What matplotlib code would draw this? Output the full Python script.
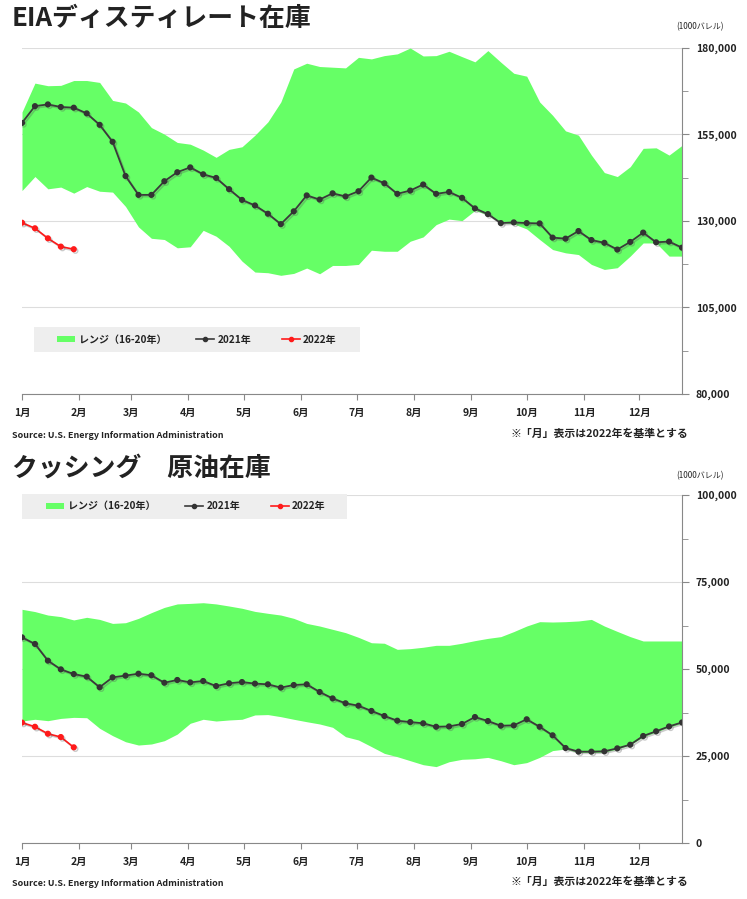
import numpy as np
import matplotlib
matplotlib.use("Agg")
import matplotlib.pyplot as plt
import matplotlib.patheffects as pe
from matplotlib.patches import Rectangle, Patch
from matplotlib.lines import Line2D
from matplotlib.ticker import FuncFormatter

plt.rcParams['font.family'] = ['Noto Sans CJK JP', 'DejaVu Sans']

# 月ラベル (2022年基準, 週単位の位置)
month_labels = ['1月', '2月', '3月', '4月', '5月', '6月', '7月', '8月', '9月', '10月', '11月', '12月']
month_days = [0, 31, 59, 90, 120, 151, 181, 212, 243, 273, 304, 334]

# EIAディスティレート在庫 (1000バレル)
dist_ticks = [80000, 105000, 130000, 155000, 180000]
dist_2021 = [158350, 163200, 163700, 162950, 162750, 161100, 157800, 152900, 143000, 137550,
             137550, 141500, 144100, 145500, 143500, 142450, 139200, 136100, 134500, 132100,
             129100, 132800, 137400, 136200, 138000, 137100, 138600, 142550, 140900, 137850,
             138800, 140550, 137850, 138400, 136700, 133650, 132000, 129400, 129600, 129400,
             129300, 125200, 124900, 127100, 124500, 123700, 121750, 123950, 126650, 123850,
             124050, 122300]
dist_2022 = [129500, 127900, 125000, 122600, 121850]
dist_hi = [161500, 169850, 169100, 169200, 170600, 170600, 170050, 164850, 164100, 161500,
           157000, 155100, 152700, 152200, 150500, 148400, 150700, 151450, 154800, 158650,
           164400, 173950, 175600, 174650, 174450, 174250, 177300, 176850, 177800, 178300,
           180000, 177700, 177800, 179050, 177500, 176000, 179250, 175900, 172700, 171850,
           164400, 160550, 156050, 154800, 149050, 144000, 142850, 145700, 151000, 151150,
           149050, 151850]
dist_lo = [138800, 142850, 139300, 139800, 138050, 139950, 138600, 138350, 134200, 128300,
           125000, 124650, 122250, 122550, 127300, 125600, 122700, 118400, 115250, 115050,
           114300, 114850, 116400, 114750, 117150, 117150, 117450, 121550, 121250, 121250,
           124150, 125400, 128950, 130550, 130100, 133050, 131800, 129600, 129150, 127700,
           124650, 121750, 120800, 120300, 117450, 116000, 116500, 119850, 123650, 123650,
           119850, 119850]

# クッシング原油在庫 (1000バレル)
cush_ticks = [0, 25000, 50000, 75000, 100000]
cush_2021 = [59100, 57200, 52400, 49900, 48550, 47800, 44750, 47600, 48100, 48650,
             48200, 46050, 46850, 46150, 46550, 45100, 45900, 46250, 45800, 45600,
             44650, 45400, 45600, 43400, 41550, 40150, 39450, 37950, 36500, 35150,
             34750, 34400, 33400, 33500, 34200, 36200, 35050, 33700, 33800, 35550,
             33400, 30950, 27300, 26250, 26250, 26350, 27200, 28250, 30750, 32100,
             33500, 34650]
cush_2022 = [34600, 33400, 31400, 30450, 27500]
cush_hi = [67150, 66500, 65500, 65050, 64100, 64850, 64250, 63100, 63300, 64550,
           66200, 67700, 68700, 68850, 69050, 68700, 68100, 67450, 66550, 66000,
           65500, 64550, 63100, 62350, 61400, 60450, 59100, 57550, 57400, 55650,
           55850, 56250, 56800, 56800, 57400, 58150, 58800, 59300, 60750, 62350,
           63600, 63500, 63600, 63800, 64250, 62350, 60800, 59300, 58050, 58050,
           58050, 58050]
cush_lo = [35050, 35550, 35150, 35800, 36100, 36000, 32950, 30850, 29100, 28150,
           28450, 29400, 31300, 34400, 35550, 35050, 35350, 35550, 36800, 36900,
           36300, 35550, 34850, 34200, 33250, 30550, 29600, 27700, 25750, 24800,
           23650, 22500, 21950, 23350, 24050, 24200, 24600, 23650, 22500, 23100,
           24600, 26550, 27000, 26000, 26000, 26100, 27000, 28200, 30500, 31900,
           33300, 34400]

GREEN = '#66ff66'
DARK = '#3a3a3a'
RED = '#ff1a1a'
W, H = 747, 899


def fx(px):
    return px / W


def fy(py):
    return 1 - py / H


shadow = [pe.SimpleLineShadow(offset=(1.2, -1.2), alpha=0.3, shadow_color='#555555'), pe.Normal()]


def draw_panel(ax, hi, lo, s21, s22, yticks, box_px, leg_center):
    weeks = np.arange(len(s21))
    ax.fill_between(weeks, lo, hi, color=GREEN, linewidth=0, zorder=1)
    ax.plot(weeks, s21, color=DARK, lw=1.3, marker='o', ms=3.4, mfc='#333333', mec='#333333',
            zorder=4, path_effects=shadow)
    ax.plot(np.arange(len(s22)), s22, color=RED, lw=1.2, marker='o', ms=3.4, mfc=RED, mec=RED,
            zorder=4, path_effects=shadow)

    ax.set_xlim(0, len(s21) - 1)
    ax.set_ylim(yticks[0], yticks[-1])
    ax.set_xticks([d / 7 for d in month_days])
    ax.set_xticklabels(month_labels)
    ax.yaxis.tick_right()
    ax.set_yticks(yticks)
    ax.set_yticks([(a + b) / 2 for a, b in zip(yticks[:-1], yticks[1:])], minor=True)
    ax.yaxis.set_major_formatter(FuncFormatter(lambda v, p: f'{int(v):,}'))
    ax.grid(axis='y', color='#dddddd', lw=0.8, zorder=0)
    ax.set_axisbelow(True)
    for s in ['top', 'left']:
        ax.spines[s].set_visible(False)
    for s in ['right', 'bottom']:
        ax.spines[s].set_color('#888888')
        ax.spines[s].set_linewidth(0.8)
    ax.tick_params(axis='x', length=4, color='#888888', labelsize=7.5, pad=6, labelcolor='#222222')
    ax.tick_params(axis='y', which='major', length=5, color='#888888', labelsize=7.5, pad=5,
                   labelcolor='#222222')
    ax.tick_params(axis='y', which='minor', length=4, color='#888888')
    for t in ax.get_xticklabels() + ax.get_yticklabels():
        t.set_fontweight('bold')

    # 凡例の背景ボックス
    x0, y0, x1, y1 = box_px
    fig = ax.figure
    fig.patches.append(Rectangle((fx(x0), fy(y1)), fx(x1) - fx(x0), fy(y0) - fy(y1),
                                 transform=fig.transFigure, facecolor='#eeeeee',
                                 edgecolor='none', zorder=3))
    handles = [Patch(facecolor=GREEN, edgecolor='none'),
               Line2D([], [], color=DARK, lw=1.2, marker='o', ms=3, mfc='#333333', mec='#333333'),
               Line2D([], [], color=RED, lw=1.2, marker='o', ms=3, mfc=RED, mec=RED)]
    labels = ['レンジ（16-20年）', '2021年', '2022年']
    leg = fig.legend(handles, labels, loc='center', bbox_to_anchor=(fx(leg_center[0]), fy(leg_center[1])),
                     ncol=3, frameon=False, handlelength=1.8, handleheight=0.6, handletextpad=0.35,
                     columnspacing=3.0, prop={'size': 7.2, 'weight': 'bold'})
    leg.set_zorder(5)
    for t in leg.get_texts():
        t.set_color('#222222')


fig = plt.figure(figsize=(W / 100, H / 100), dpi=100)

ax1 = fig.add_axes([fx(22), fy(394), fx(660), 346 / H])
draw_panel(ax1, dist_hi, dist_lo, dist_2021, dist_2022, dist_ticks,
           (34, 327, 360, 352), (197, 339.5))

ax2 = fig.add_axes([fx(22), fy(843), fx(660), 348 / H])
draw_panel(ax2, cush_hi, cush_lo, cush_2021, cush_2022, cush_ticks,
           (22, 494, 347, 519), (186, 506.5))

# タイトル・注記
fig.text(fx(12), fy(19), 'EIAディスティレート在庫', fontsize=18.6, fontweight='bold',
         color='#222222', va='center', ha='left')
fig.text(fx(12), fy(468), 'クッシング　原油在庫', fontsize=18.6, fontweight='bold',
         color='#222222', va='center', ha='left')
for y in (27, 476):
    fig.text(fx(700), fy(y), '(1000バレル)', fontsize=5.8, color='#222222', va='center', ha='center')
for y in (436, 884):
    fig.text(fx(12), fy(y), 'Source: U.S. Energy Information Administration', fontsize=6.45,
             fontweight='bold', color='#222222', va='center', ha='left')
for y in (434, 882):
    fig.text(fx(688), fy(y), '※「月」表示は2022年を基準とする', fontsize=7.8,
             fontweight='bold', color='#222222', va='center', ha='right')

fig.savefig('out.png', dpi=100)
